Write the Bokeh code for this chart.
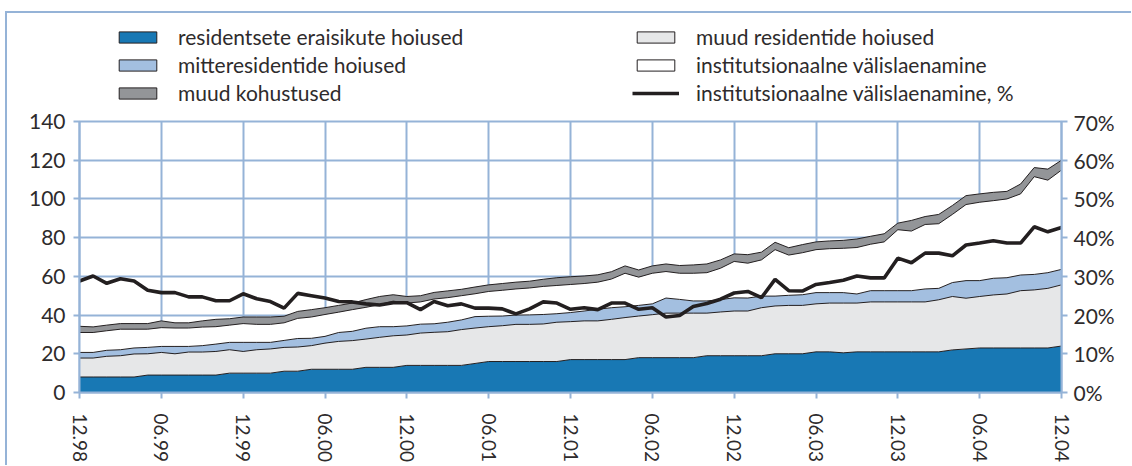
from bokeh.plotting import figure
from bokeh.layouts import column
from bokeh.models import (Range1d, LinearAxis, FixedTicker, Legend, LegendItem,
                          ColumnDataSource, PrintfTickFormatter, GlobalInlineStyleSheet)
from bokeh.transform import stack
from bokeh.embed import file_html
from bokeh.resources import INLINE

# ---------------- data (bn EEK, monthly 12.98 ... 12.04) ----------------
tick_labels = ["12.98", "06.99", "12.99", "06.00", "12.00", "06.01", "12.01",
               "06.02", "12.02", "06.03", "12.03", "06.04", "12.04"]

resid_erais = [8, 8, 8, 8, 8, 9, 9, 9, 9, 9, 9, 10, 10, 10, 10, 11, 11, 12, 12, 12, 12,
               13, 13, 13, 14, 14, 14, 14, 14, 15, 16, 16, 16, 16, 16, 16, 17, 17, 17, 17, 17,
               18, 18, 18, 18, 18, 19, 19, 19, 19, 19, 20, 20, 20, 21, 21, 20.5,
               21, 21, 21, 21, 21, 21, 21, 22, 22.5, 23, 23, 23, 23, 23, 23, 24]
muud_resid = [9.8, 9.8, 10.7, 11, 11.9, 11, 11.7, 11, 11.9, 11.9,
              12.2, 12.1, 11.2, 12.1, 12.5, 12.3, 12.5, 12.2, 13.5, 14.4,
              14.8, 14.6, 15.5, 16.3, 15.7, 16.7, 17.1, 17.4, 18.5, 18.3,
              18, 18.5, 19.2, 19.2, 19.4, 20.3, 19.6, 20, 20, 20.8,
              21.7, 21.5, 22.2, 23, 23, 23, 22, 22.6, 23.1, 23.1,
              24.8, 24.7, 25, 25, 24.8, 25.2, 25.7, 25.2, 25.8, 25.8,
              25.8, 25.8, 25.8, 26.9, 27.6, 26.2, 26.6, 27.4, 27.9, 29.6,
              30, 30.8, 31.6]
mitteresid = [2.9, 2.9, 3.1, 3.1, 3.1, 3.3, 3.1, 3.8, 2.9, 3.3,
              3.8, 3.8, 4.7, 3.8, 3.4, 3.6, 4.4, 3.8, 3.5, 4.6,
              4.8, 5.6, 5.5, 4.7, 4.7, 4.6, 4.4, 4.9, 5, 5.9,
              5.4, 5, 4.8, 4.9, 4.9, 4.4, 4.7, 5.1, 6, 6,
              5.6, 5.5, 5.6, 7.8, 7.1, 6.3, 6.3, 6.4, 6.8, 6.7,
              6, 5.1, 5.2, 5.5, 5.8, 5.4, 5.4, 4.7, 5.8, 5.8,
              5.8, 5.8, 6.7, 5.9, 7.2, 9.1, 8.2, 8.6, 8.4, 8.1,
              8, 8.1, 8]
inst_laen = [10.3, 10.3, 10.1, 10.6, 9.7, 9.4, 9.7, 9.5, 9.5, 9.6,
             9, 8.9, 9.7, 9.3, 9.3, 9.1, 10.4, 11, 11.3, 10.5,
             11.2, 10.8, 11.4, 13.2, 11.8, 11.5, 12.8, 12.7, 12.5, 11.8,
             12.8, 13.3, 13.5, 13.9, 14.5, 14.6, 14.5, 14.2, 14, 14.8,
             17.3, 14.6, 15.8, 13.7, 13.5, 14.3, 14.6, 16.2, 18.8, 18,
             18.7, 24, 20.8, 21.7, 22.2, 22.7, 22.9, 24, 24, 25.2,
             31.5, 30.8, 33.3, 33.4, 35.2, 39.3, 40.5, 40.1, 40.7, 41.9,
             50.5, 47.8, 51.3]
muud_kohust = [3.2, 2.9, 2.9, 2.9, 2.9, 2.9, 3.5, 2.7, 2.7, 3.2,
               3.8, 3.3, 3.4, 3.8, 3.8, 3.4, 3.6, 3.8, 3.5, 3.5,
               3.4, 4, 4.2, 3.3, 3.4, 3.2, 3.4, 3.5, 3.3, 3.5,
               3.4, 3.5, 3.5, 3.5, 3.7, 4, 4, 3.9, 3.8, 3.8,
               3.8, 3.7, 3.8, 3.9, 4, 4.3, 4.5, 4.3, 3.9, 4.4,
               4, 3.8, 3.8, 4.2, 4, 4, 4.1, 4.4, 4.1, 4.2,
               3.4, 5.5, 4.1, 4.8, 4.6, 4.6, 4.3, 4.3, 3.9, 5.1,
               4.7, 5.7, 5.1]
inst_pct = [28.8, 30.1, 28.2, 29.4, 28.8, 26.4, 25.8, 25.8, 24.7, 24.7,
            23.7, 23.7, 25.5, 24.2, 23.5, 21.8, 25.6, 25, 24.4, 23.5,
            23.4, 22.9, 22.6, 23.2, 23.2, 21.4, 23.5, 22.4, 22.9, 21.8,
            21.8, 21.6, 20.3, 21.6, 23.4, 23.1, 21.5, 21.9, 21.4, 23.1,
            23.1, 21.5, 21.9, 19.5, 19.9, 22.2, 23, 24.1, 25.7, 26.1,
            24.5, 29.2, 26.3, 26.2, 27.9, 28.4, 29, 30.1, 29.6, 29.6,
            34.7, 33.5, 36, 36, 35.3, 38.1, 38.6, 39.2, 38.6, 38.6,
            42.8, 41.5, 42.6]

series_names = ["residentsete eraisikute hoiused", "muud residentide hoiused",
                "mitteresidentide hoiused", "institutsionaalne välislaenamine",
                "muud kohustused"]
line_name = "institutsionaalne välislaenamine, %"

# ---------------- styling ----------------
FONT = "Lato"
TXT = "#2E2B2C"
GRID = "#95B3D7"
fills = ["#1878B4", "#E6E7E8", "#A3BFE0", "#FFFFFF", "#939598"]
W = 1124

months = list(range(len(resid_erais)))
src = ColumnDataSource(dict(x=months, s0=resid_erais, s1=muud_resid, s2=mitteresid,
                            s3=inst_laen, s4=muud_kohust, pct=inst_pct))
stackers = ["s0", "s1", "s2", "s3", "s4"]

# ---------------- main chart ----------------
p = figure(width=W, height=356, output_backend="svg", toolbar_location=None,
           x_range=Range1d(0, months[-1]), y_range=Range1d(0, 140),
           min_border_left=72, min_border_right=70, min_border_top=12,
           min_border_bottom=71)
p.extra_y_ranges = {"pct": Range1d(0, 70)}
p.outline_line_color = GRID
p.outline_line_width = 2
p.background_fill_color = "white"

p.varea_stack(stackers, x="x", color=fills, source=src)
for k in range(len(stackers)):
    p.line(x="x", y=stack(*stackers[:k + 1]), color="#231F20", line_width=1, source=src)
p.line("x", "pct", y_range_name="pct", color="#231F20", line_width=3.6, source=src)

tick_pos = [6 * k for k in range(len(tick_labels))]
xa = p.xaxis[0]
xa.ticker = FixedTicker(ticks=tick_pos)
xa.major_label_overrides = {t: l for t, l in zip(tick_pos, tick_labels)}
xa.major_label_orientation = "vertical"
xa.minor_tick_line_color = None

ya = p.yaxis[0]
ya.ticker = FixedTicker(ticks=list(range(0, 141, 20)))
ya.minor_tick_line_color = None

ra = LinearAxis(y_range_name="pct", ticker=FixedTicker(ticks=list(range(0, 71, 10))),
                formatter=PrintfTickFormatter(format="%d%%"))
ra.minor_tick_line_color = None
p.add_layout(ra, "right")

for ax in (xa, ya, ra):
    ax.axis_line_color = GRID
    ax.axis_line_width = 2
    ax.major_tick_line_color = GRID
    ax.major_tick_line_width = 2
    ax.major_tick_out = 6
    ax.major_tick_in = 0
    ax.major_label_text_font = FONT
    ax.major_label_text_font_size = "21px"
    ax.major_label_text_color = TXT
xa.major_label_text_font_size = "19px"
xa.major_label_standoff = 15
ya.major_label_standoff = 8
ra.major_label_standoff = 6

p.xgrid.grid_line_color = GRID
p.xgrid.grid_line_width = 2
p.ygrid.grid_line_color = GRID
p.ygrid.grid_line_width = 2

# ---------------- legend strip ----------------
lg = figure(width=W, height=96, output_backend="svg", toolbar_location=None,
            x_axis_type=None, y_axis_type=None, min_border=0,
            x_range=Range1d(0, 1), y_range=Range1d(0, 1))
lg.outline_line_color = None
lg.xgrid.visible = False
lg.ygrid.visible = False

# swatch renderers sit outside the strip's visible range; only their legend glyphs show
sw = []
for name, col in zip(series_names, fills):
    r = lg.quad(left=[2], right=[3], top=[3], bottom=[2], fill_color=col,
                line_color="#231F20", line_width=1)
    sw.append(LegendItem(label=name, renderers=[r]))
lr = lg.line(x=[2, 3], y=[2, 2], color="#231F20", line_width=3.6)
line_item = LegendItem(label=line_name, renderers=[lr])

common = dict(orientation="vertical", glyph_width=47, glyph_height=14,
              label_standoff=17, spacing=3, label_height=20, padding=0, margin=0,
              border_line_alpha=0, background_fill_alpha=0,
              label_text_font=FONT, label_text_font_size="21px",
              label_text_color=TXT)
lg.add_layout(Legend(items=[sw[0], sw[2], sw[4]], location=(35, 4), **common))
lg.add_layout(Legend(items=[sw[1], sw[3], line_item], location=(553, 4), **common))

layout = column(lg, p, spacing=0)
layout.styles = {"margin-top": "11px", "margin-left": "5px",
                 "border-top": f"2px solid {GRID}", "border-left": f"2px solid {GRID}"}
layout.stylesheets = [GlobalInlineStyleSheet(css="html, body { overflow: hidden; }")]

open("out.html", "w").write(file_html(layout, INLINE))
